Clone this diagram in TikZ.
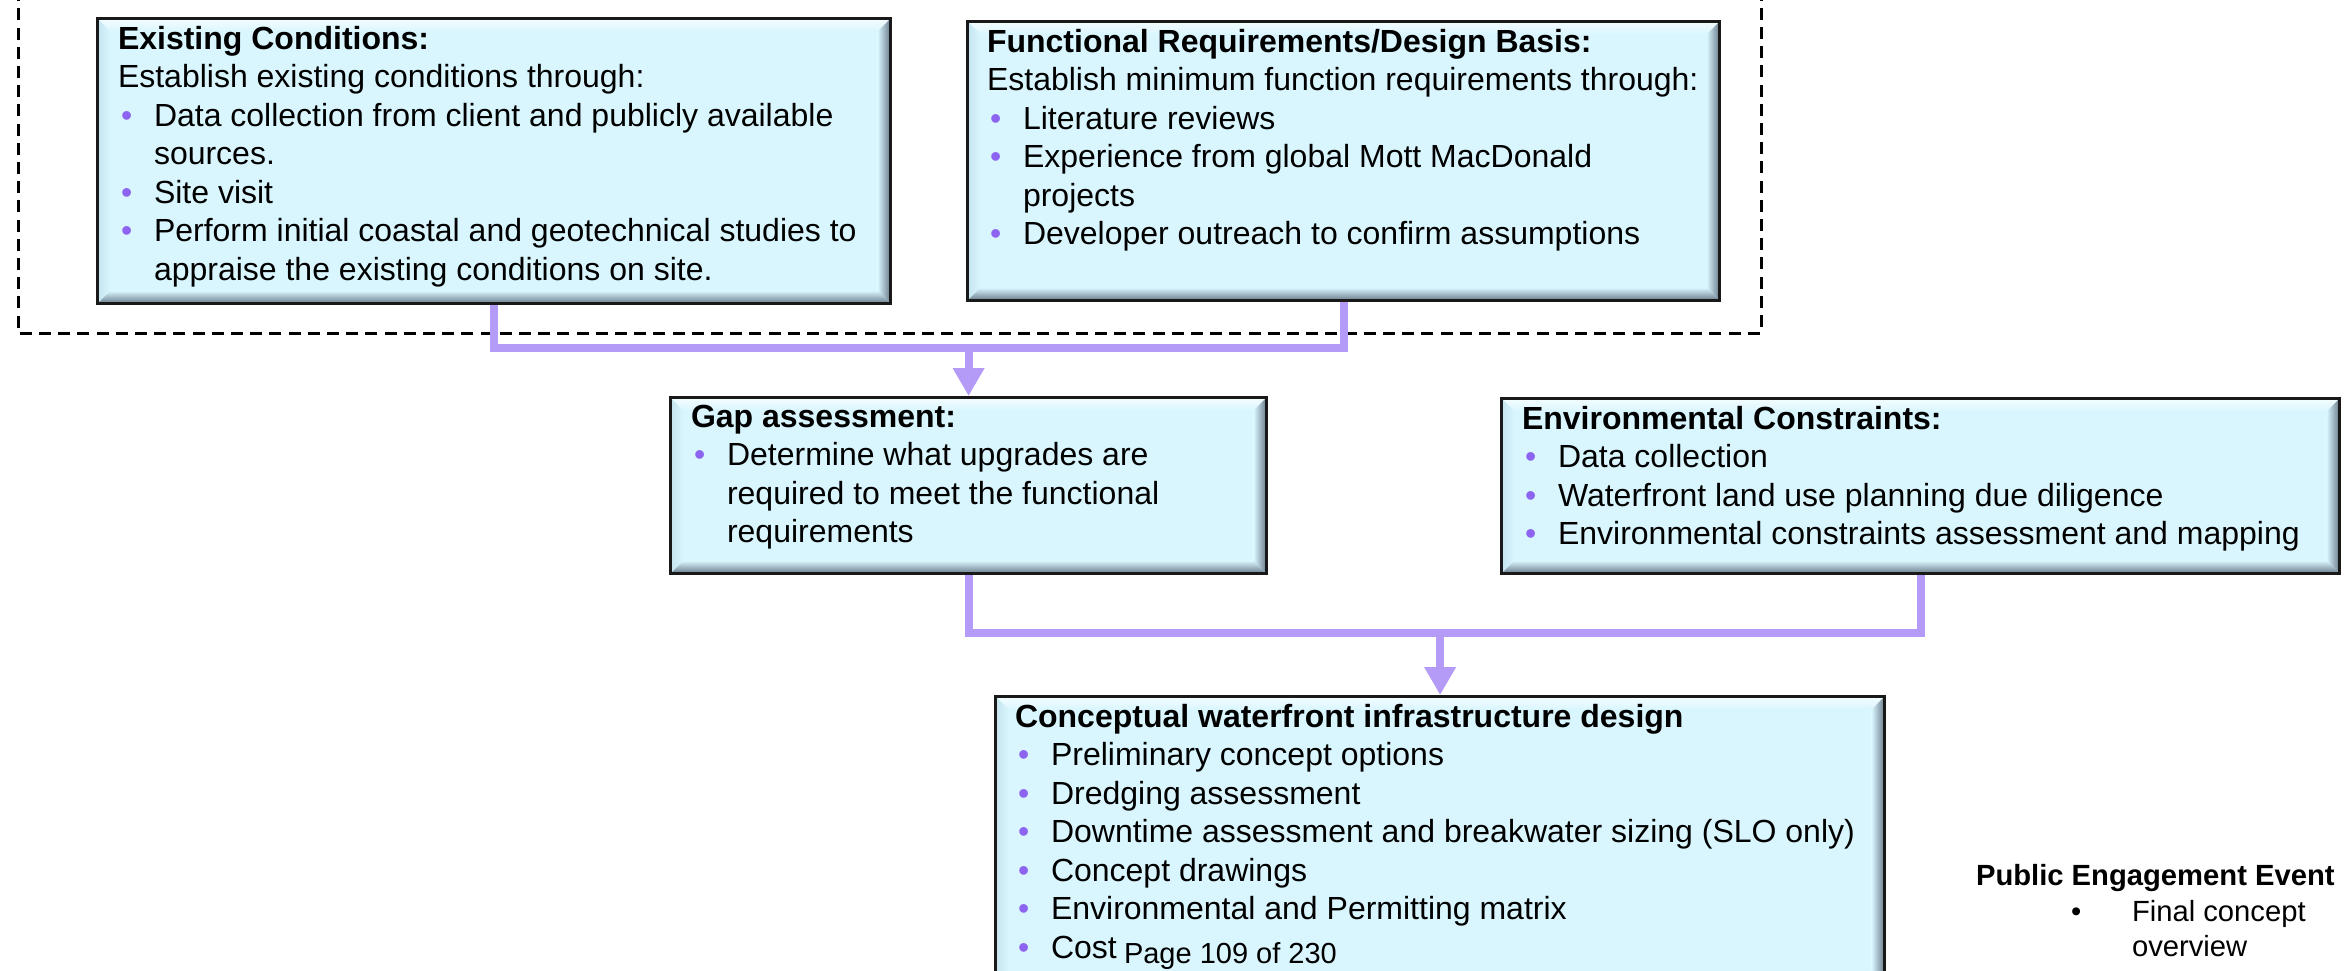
\documentclass[tikz,border=0pt]{standalone}
\usepackage{fontspec}
\setmainfont{Liberation Sans}
\usetikzlibrary{arrows.meta,calc}

\definecolor{boxfill}{RGB}{217,246,254}
\definecolor{bevtop}{RGB}{244,253,255}
\definecolor{bevleft}{RGB}{198,228,238}
\definecolor{bevdark}{RGB}{104,122,138}
\definecolor{bul}{RGB}{140,100,240}
\definecolor{linkc}{RGB}{180,155,248}

% body text: 16pt type on a 19.25pt line
\newcommand\bodyfont{\fontsize{16pt}{19.25pt}\selectfont}
% bulleted entry with a hanging indent
\newcommand\itm{\par\hangindent=18pt\hangafter=1\noindent
  \makebox[18pt][l]{\hspace{1.5pt}\textcolor{bul}{\textbullet}}\ignorespaces}
\newcommand\boxtext[1]{\parbox[t]{460pt}{\bodyfont\raggedright\parindent=0pt #1}}
\def\bv{6.5pt}

\tikzset{
  bevelbox/.style={draw=black!90, line width=1.6pt, fill=boxfill, inner sep=0pt,
    anchor=north west, rectangle,
    path picture={
      \coordinate (pnw) at (path picture bounding box.north west);
      \coordinate (pne) at (path picture bounding box.north east);
      \coordinate (psw) at (path picture bounding box.south west);
      \coordinate (pse) at (path picture bounding box.south east);
      \shade[top color=bevtop, bottom color=boxfill]
        (pnw) -- (pne) -- ([shift={(-\bv,-\bv)}]pne) -- ([shift={(\bv,-\bv)}]pnw) -- cycle;
      \shade[left color=bevleft, right color=boxfill]
        (pnw) -- ([shift={(\bv,-\bv)}]pnw) -- ([shift={(\bv,\bv)}]psw) -- (psw) -- cycle;
      \shade[left color=boxfill, right color=bevdark]
        (pne) -- (pse) -- ([shift={(-\bv,\bv)}]pse) -- ([shift={(-\bv,-\bv)}]pne) -- cycle;
      \shade[top color=boxfill, bottom color=bevdark]
        (psw) -- ([shift={(\bv,\bv)}]psw) -- ([shift={(-\bv,\bv)}]pse) -- (pse) -- cycle;
    }},
  boxlabel/.style={anchor=base west, inner sep=0pt, outer sep=0pt},
  link/.style={draw=linkc, line width=3.9pt},
  linkarrow/.style={link, -{Triangle[length=14pt,width=15pt]}},
  frame/.style={draw=black, line width=1.5pt, dash pattern=on 6pt off 3.6pt},
}

\begin{document}
\begin{tikzpicture}[x=0.5pt, y=-0.5pt]
  \useasboundingbox (0,0) rectangle (2349,970);
  \fill[white] (0,0) rectangle (2349,970);

  % dashed grouping frame (its top edge lies above the page)
  \coordinate (fTL) at (18,-30);
  \coordinate (fBL) at (18,333);
  \coordinate (fBR) at (1761,333);
  \coordinate (fTR) at (1761,-30);
  \draw[frame] (fTL) -- (fBL) -- (fBR) -- (fTR);

  % boxes
  \node[bevelbox, minimum width=396.5pt, minimum height=142.5pt] (ec)  at (96,17)   {};
  \node[bevelbox, minimum width=376pt,   minimum height=139.5pt] (fr)  at (966,20)  {};
  \node[bevelbox, minimum width=298pt,   minimum height=88pt]    (gap) at (669,396) {};
  \node[bevelbox, minimum width=419pt,   minimum height=87.5pt]  (env) at (1500,397) {};
  \node[bevelbox, minimum width=444.5pt, minimum height=155pt]   (fin) at (994,695) {};

  % box contents
  \node[boxlabel] (ecT) at (118,49) {\boxtext{%
    \textbf{Existing Conditions:}\par
    Establish existing conditions through:
    \itm Data collection from client and publicly available\newline sources.
    \itm Site visit
    \itm Perform initial coastal and geotechnical studies to\newline appraise the existing conditions on site.}};

  \node[boxlabel] (frT) at (987,52) {\boxtext{%
    \textbf{Functional Requirements/Design Basis:}\par
    Establish minimum function requirements through:
    \itm Literature reviews
    \itm Experience from global Mott MacDonald\newline projects
    \itm Developer outreach to confirm assumptions}};

  \node[boxlabel] (gapT) at (691,427) {\boxtext{%
    \textbf{Gap assessment:}
    \itm Determine what upgrades are\newline required to meet the functional\newline requirements}};

  \node[boxlabel] (envT) at (1522,429) {\boxtext{%
    \textbf{Environmental Constraints:}
    \itm Data collection
    \itm Waterfront land use planning due diligence
    \itm Environmental constraints assessment and mapping}};

  \node[boxlabel] (finT) at (1015,727) {\boxtext{%
    \textbf{Conceptual waterfront infrastructure design}
    \itm Preliminary concept options
    \itm Dredging assessment
    \itm Downtime assessment and breakwater sizing (SLO only)
    \itm Concept drawings
    \itm Environmental and Permitting matrix
    \itm Cost}};

  \node[boxlabel, font=\fontsize{14.5pt}{17pt}\selectfont] (page) at (1124,963) {Page 109 of 230};

  % connectors
  \path (0,348) coordinate (yTop) (0,633) coordinate (yBot);
  \coordinate (j1) at (gap.north |- yTop);
  \coordinate (j2) at (fin.north |- yBot);
  \draw[link] (ec.south) |- (j1) -| (fr.south);
  \draw[linkarrow] (j1) -- (gap.north);
  \draw[link] (gap.south) |- (j2) -| (env.south);
  \draw[linkarrow] (j2) -- (fin.north);

  % public engagement note
  \node[boxlabel, font=\bfseries\fontsize{14.6pt}{17.5pt}\selectfont] (pe) at (1976,885) {Public Engagement Event};
  \node[boxlabel, font=\fontsize{14.6pt}{17.5pt}\selectfont] (peB) at (2071,921) {\textbullet};
  \node[boxlabel, font=\fontsize{14.6pt}{17.5pt}\selectfont] (peT) at (2132,921)
    {\parbox[t]{150pt}{\fontsize{14.6pt}{17.5pt}\selectfont Final concept\\overview}};
\end{tikzpicture}
\end{document}
